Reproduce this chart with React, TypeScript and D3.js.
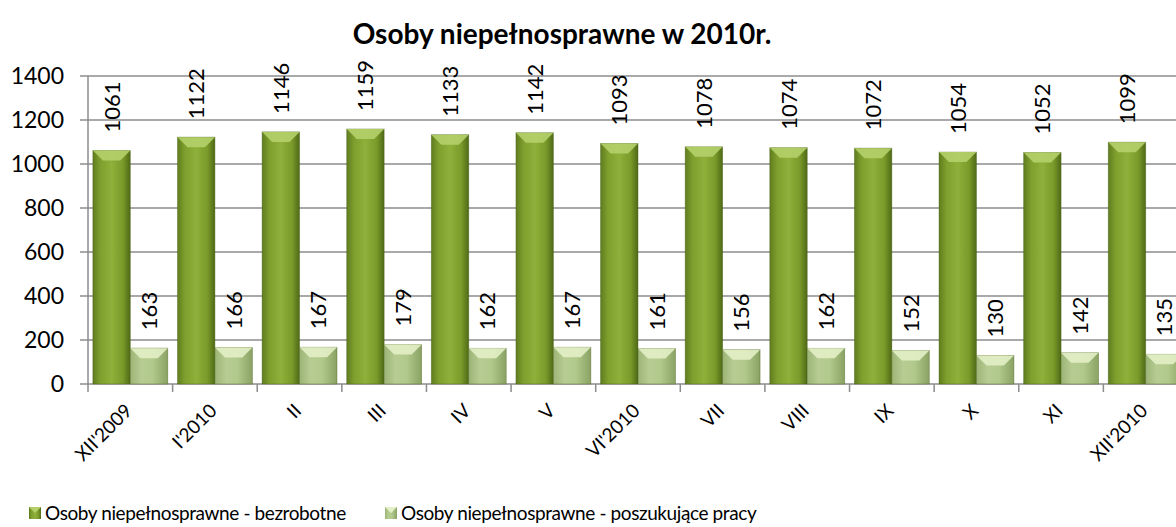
import React from "react";
import * as d3 from "d3";

const months = ["XII'2009", "I'2010", "II", "III", "IV", "V", "VI'2010", "VII", "VIII", "IX", "X", "XI", "XII'2010"];
const unemployed = [1061, 1122, 1146, 1159, 1133, 1142, 1093, 1078, 1074, 1072, 1054, 1052, 1099];
const jobSeekers = [163, 166, 167, 179, 162, 167, 161, 156, 162, 152, 130, 142, 135];
const yTicks = [0, 200, 400, 600, 800, 1000, 1200, 1400];
const seriesNames = ["Osoby niepełnosprawne - bezrobotne", "Osoby niepełnosprawne - poszukujące pracy"];

const W = 1176;
const H = 527;
const margin = { top: 76, left: 88, bottom: 143 }; // plot runs past the right edge like the original
const plotRight = 1188;
const font = "Lato, 'Open Sans', sans-serif";

export default function App() {
  const x = d3.scaleBand().domain(months).range([margin.left, plotRight]);
  const inner = d3.scaleBand().domain(["a", "b"]).range([0, x.bandwidth()]).paddingOuter(0.13).paddingInner(0);
  const y = d3.scaleLinear().domain([0, 1400]).range([H - margin.bottom, margin.top]);
  const bw = inner.bandwidth();

  const bar = (v, i, key, grad, top) => {
    const x0 = x(months[i]) + inner(key);
    const y0 = y(v);
    const h = y(0) - y0;
    const bev = Math.min(10, h / 2);
    return (
      <g key={key + i}>
        <rect x={x0} y={y0} width={bw} height={h} fill={`url(#${grad})`} stroke="#4a5f18" strokeOpacity={0.5} strokeWidth={0.8} />
        <polygon
          points={`${x0},${y0} ${x0 + bw},${y0} ${x0 + bw - bev},${y0 + bev} ${x0 + bev},${y0 + bev}`}
          fill={top}
          opacity={0.9}
        />
      </g>
    );
  };

  const label = (v, i, key) => {
    const cx = x(months[i]) + inner(key) + bw / 2 + 8;
    const cy = y(v) - 18;
    return (
      <text key={"l" + key + i} transform={`translate(${cx},${cy}) rotate(-90)`} fontSize={22} fontFamily={font} fill="#000">
        {v}
      </text>
    );
  };

  return (
    <svg width={W} height={H} style={{ position: "absolute", left: 0, top: 0, background: "#fff" }}>
      <defs>
        <linearGradient id="gA" x1="0" x2="1" y1="0" y2="0">
          <stop offset="0" stopColor="#5f7d1e" />
          <stop offset="0.2" stopColor="#7f9f2e" />
          <stop offset="0.5" stopColor="#8fb03a" />
          <stop offset="0.8" stopColor="#7a9a2a" />
          <stop offset="1" stopColor="#4f6a16" />
        </linearGradient>
        <linearGradient id="gB" x1="0" x2="1" y1="0" y2="0">
          <stop offset="0" stopColor="#9db477" />
          <stop offset="0.3" stopColor="#b6cc92" />
          <stop offset="0.6" stopColor="#b2c98c" />
          <stop offset="1" stopColor="#8aa264" />
        </linearGradient>
        <clipPath id="clip">
          <rect x={0} y={0} width={W} height={H} />
        </clipPath>
      </defs>

      <text x={562} y={44} textAnchor="middle" fontSize={28} fontWeight="bold" fontFamily={font}>
        Osoby niepełnosprawne w 2010r.
      </text>

      <g clipPath="url(#clip)">
        {yTicks.map((t) => (
          <g key={t}>
            <line x1={margin.left - 8} x2={plotRight} y1={y(t)} y2={y(t)} stroke="#8c8c8c" strokeWidth={1.5} />
            <text x={margin.left - 24} y={y(t) + 8} textAnchor="end" fontSize={23} fontFamily={font}>
              {t}
            </text>
          </g>
        ))}
        <line x1={margin.left} x2={margin.left} y1={y(1400)} y2={y(0)} stroke="#8c8c8c" strokeWidth={1.5} />
        {months.map((m, i) => (
          <line key={"t" + m} x1={x(m)} x2={x(m)} y1={y(0)} y2={y(0) + 8} stroke="#8c8c8c" strokeWidth={1.5} />
        ))}

        {unemployed.map((v, i) => bar(v, i, "a", "gA", "#b5d06a"))}
        {jobSeekers.map((v, i) => bar(v, i, "b", "gB", "#e3f0c6"))}
        {unemployed.map((v, i) => label(v, i, "a"))}
        {jobSeekers.map((v, i) => label(v, i, "b"))}

        {months.map((m) => (
          <text
            key={"x" + m}
            transform={`translate(${x(m) + x.bandwidth() / 2 + 3},${y(0) + 28}) rotate(-45)`}
            textAnchor="end"
            fontSize={19}
            fontFamily={font}
          >
            {m}
          </text>
        ))}
      </g>

      {seriesNames.map((s, i) => {
        const lx = i === 0 ? 29 : 385;
        return (
          <g key={s}>
            <rect x={lx} y={507} width={12} height={12} fill={`url(#${i === 0 ? "gA" : "gB"})`} />
            <polygon points={`${lx},507 ${lx + 12},507 ${lx + 6},513`} fill={i === 0 ? "#b5d06a" : "#e3f0c6"} />
            <text x={lx + 16} y={520} fontSize={19} letterSpacing={-0.4} fontFamily={font}>
              {s}
            </text>
          </g>
        );
      })}
    </svg>
  );
}
